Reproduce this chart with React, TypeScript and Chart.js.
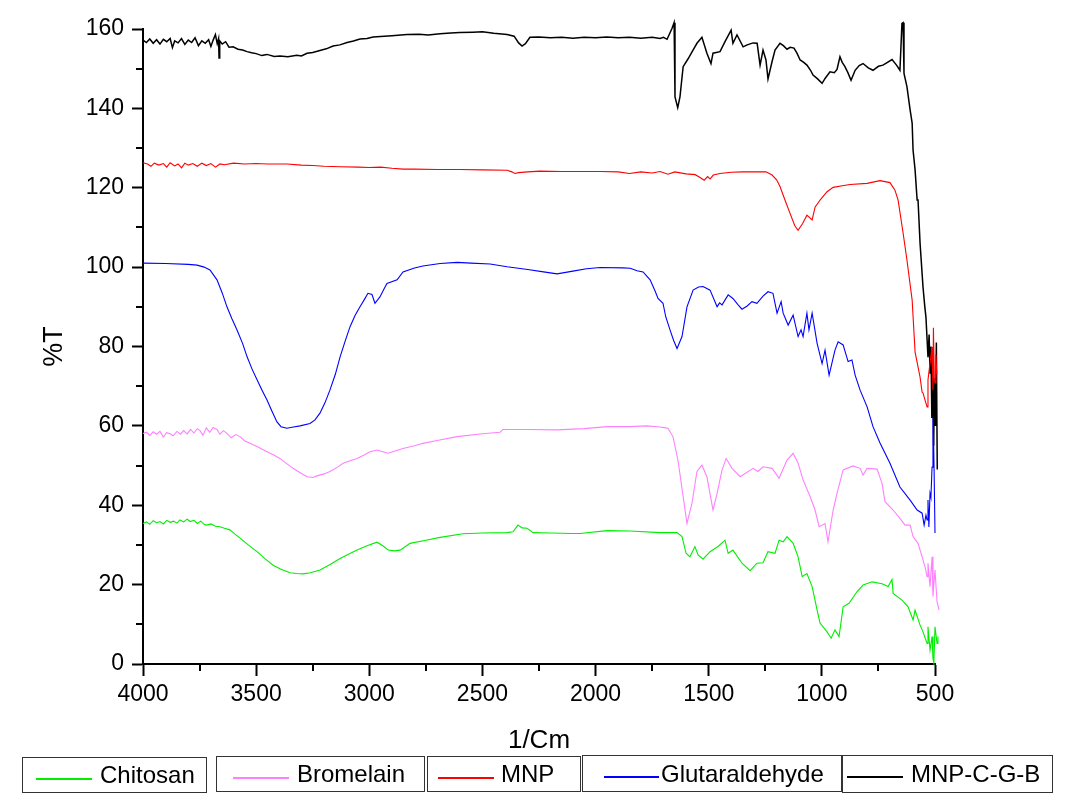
import React, { useEffect, useRef } from 'react';
import { Chart, registerables } from 'chart.js';

Chart.register(...registerables);

// ---------- data ----------
const seriesLabels = ['Chitosan', 'Bromelain', 'MNP', 'Glutaraldehyde', 'MNP-C-G-B'];
const seriesColors = ['#00ee00', '#ff80ff', '#ff0000', '#0000ff', '#000000'];

const xMajorTicks = [4000, 3500, 3000, 2500, 2000, 1500, 1000, 500];
const xMinorTicks = [3750, 3250, 2750, 2250, 1750, 1250, 750];
const yMinorTicks = [10, 30, 50, 70, 90, 110, 130, 150];

const chitosanWn = [4000, 3985, 3970, 3955, 3940, 3925, 3910, 3895, 3880, 3865, 3850, 3837, 3820, 3805, 3792, 3775, 3760, 3745, 3730, 3718, 3700, 3680, 3660, 3640, 3616, 3595, 3571, 3535, 3496, 3460, 3425, 3390, 3350, 3320, 3293, 3260, 3218, 3175, 3129, 3090, 3054, 3010, 2966, 2940, 2917, 2890, 2864, 2840, 2820, 2750, 2687, 2586, 2500, 2391, 2365, 2343, 2325, 2303, 2276, 2200, 2100, 2069, 1949, 1848, 1715, 1640, 1618, 1600, 1583, 1561, 1547, 1525, 1494, 1459, 1428, 1414, 1393, 1353, 1317, 1287, 1260, 1238, 1207, 1189, 1171, 1154, 1127, 1105, 1087, 1066, 1043, 1021, 1008, 977, 959, 942, 924, 906, 880, 845, 818, 778, 734, 707, 690, 685, 646, 619, 597, 588, 566, 553, 535, 531, 522, 513, 509, 505, 500, 491, 487];
const chitosanT = [35.4, 35.8, 35.2, 36.1, 35.6, 35.9, 35.3, 36.2, 35.7, 36.0, 35.5, 36.3, 35.8, 36.5, 35.9, 36.2, 35.4, 36.0, 35.2, 35.0, 35.3, 34.7, 34.6, 34.2, 33.8, 32.8, 31.7, 30.0, 28.3, 26.5, 24.9, 23.9, 23.0, 22.8, 22.7, 23.0, 23.7, 25.0, 26.6, 27.7, 28.7, 29.8, 30.7, 29.8, 28.7, 28.5, 28.7, 29.6, 30.4, 31.2, 31.9, 32.8, 33.0, 33.1, 33.3, 35.0, 34.3, 34.2, 33.1, 33.0, 32.9, 32.9, 33.6, 33.5, 33.1, 33.1, 32.1, 27.9, 27.0, 29.6, 27.5, 26.4, 28.3, 29.6, 31.2, 27.9, 28.7, 25.4, 23.5, 25.4, 25.5, 28.3, 27.9, 31.2, 30.8, 32.1, 30.4, 27.0, 22.0, 22.8, 19.5, 13.6, 10.3, 8.1, 6.5, 8.6, 6.9, 14.4, 15.3, 18.2, 19.9, 20.7, 20.2, 19.5, 21.3, 17.8, 16.1, 14.4, 11.1, 13.6, 9.8, 8.1, 5.2, 9.4, 3.5, 6.9, 1.4, 0.2, 9.4, 5.2, 6.9];

const bromelainWn = [4000, 3985, 3970, 3955, 3940, 3925, 3910, 3895, 3880, 3867, 3850, 3835, 3820, 3805, 3790, 3775, 3760, 3748, 3735, 3720, 3705, 3690, 3673, 3660, 3645, 3629, 3610, 3590, 3571, 3550, 3527, 3490, 3452, 3420, 3395, 3365, 3337, 3300, 3275, 3250, 3231, 3200, 3174, 3140, 3116, 3085, 3054, 3025, 2997, 2966, 2940, 2917, 2890, 2851, 2800, 2763, 2700, 2612, 2500, 2422, 2409, 2300, 2170, 2050, 1949, 1850, 1773, 1715, 1690, 1680, 1658, 1636, 1613, 1596, 1574, 1552, 1530, 1508, 1481, 1463, 1441, 1423, 1397, 1361, 1304, 1282, 1260, 1220, 1189, 1154, 1127, 1105, 1083, 1052, 1030, 1012, 986, 973, 950, 933, 906, 862, 831, 818, 800, 756, 734, 721, 685, 655, 632, 610, 597, 575, 557, 544, 535, 531, 522, 513, 509, 500, 491, 482];
const bromelainT = [58.1, 58.4, 57.6, 58.5, 57.9, 58.6, 57.2, 58.3, 58.0, 57.5, 58.6, 57.9, 58.8, 58.0, 59.1, 58.2, 59.3, 58.8, 57.6, 59.5, 58.4, 59.6, 59.1, 57.9, 58.8, 58.1, 57.0, 57.8, 57.3, 56.2, 55.6, 54.6, 53.5, 52.6, 51.8, 50.5, 49.3, 48.0, 47.2, 47.0, 47.4, 47.9, 48.5, 49.6, 50.6, 51.2, 51.8, 52.6, 53.5, 53.9, 53.5, 53.1, 53.6, 54.3, 55.0, 55.6, 56.3, 57.3, 58.0, 58.4, 59.1, 59.1, 59.0, 59.3, 59.8, 59.8, 60.0, 59.7, 59.5, 59.4, 57.3, 51.4, 42.2, 35.4, 40.5, 48.5, 50.1, 47.2, 38.8, 43.0, 48.9, 51.8, 49.3, 47.2, 49.3, 48.5, 49.7, 49.3, 46.8, 51.4, 53.1, 50.6, 46.4, 42.2, 38.8, 34.6, 35.4, 30.8, 38.8, 43.0, 48.9, 49.9, 49.3, 47.6, 49.3, 49.1, 45.5, 40.9, 38.8, 36.7, 35.0, 35.0, 32.1, 30.4, 27.0, 24.5, 22.0, 25.4, 19.5, 27.0, 17.0, 23.7, 15.7, 13.6];

const mnpWn = [4000, 3980, 3965, 3950, 3930, 3910, 3895, 3880, 3860, 3845, 3830, 3815, 3800, 3780, 3760, 3740, 3720, 3700, 3680, 3660, 3640, 3600, 3550, 3500, 3450, 3364, 3300, 3250, 3200, 3129, 3050, 3000, 2950, 2900, 2851, 2800, 2700, 2600, 2500, 2391, 2370, 2356, 2340, 2300, 2246, 2150, 2050, 1980, 1900, 1850, 1800, 1750, 1715, 1680, 1650, 1600, 1560, 1538, 1520, 1505, 1494, 1480, 1450, 1400, 1350, 1300, 1247, 1220, 1200, 1185, 1163, 1141, 1120, 1105, 1085, 1066, 1043, 1030, 1008, 977, 950, 910, 875, 800, 743, 699, 677, 663, 641, 624, 601, 588, 566, 557, 553, 544, 535, 531, 522, 513, 509, 507, 503, 500, 496, 492];
const mnpT = [126.3, 126.0, 125.4, 126.2, 125.7, 126.1, 125.2, 126.3, 125.5, 126.0, 125.0, 126.2, 125.7, 126.1, 125.4, 126.2, 125.6, 126.1, 125.2, 126.0, 125.8, 126.2, 126.0, 126.1, 126.0, 126.0, 125.7, 125.6, 125.4, 125.3, 125.2, 125.1, 125.2, 124.9, 124.7, 124.7, 124.6, 124.6, 124.5, 124.4, 124.0, 123.6, 123.8, 124.0, 124.2, 124.1, 124.1, 124.1, 124.0, 123.6, 124.0, 123.7, 124.1, 123.4, 124.0, 123.5, 123.3, 122.6, 121.9, 122.8, 122.2, 123.2, 123.6, 123.9, 124.0, 124.0, 124.0, 123.2, 122.0, 120.3, 116.9, 113.6, 110.5, 109.3, 111.0, 113.1, 111.9, 115.1, 116.9, 119.0, 120.1, 120.5, 120.8, 121.1, 121.8, 121.3, 119.4, 116.9, 108.6, 101.8, 91.7, 78.6, 72.3, 68.5, 68.3, 66.5, 64.8, 71.6, 75.8, 79.9, 69.0, 84.7, 72.0, 70.8, 78.0, 73.0];

const glutaraldehydeWn = [4000, 3900, 3800, 3761, 3730, 3704, 3673, 3650, 3629, 3607, 3585, 3560, 3540, 3518, 3496, 3474, 3452, 3430, 3408, 3390, 3364, 3335, 3306, 3262, 3240, 3218, 3196, 3174, 3150, 3129, 3107, 3085, 3063, 3041, 3020, 3006, 2988, 2975, 2953, 2935, 2922, 2877, 2851, 2800, 2763, 2687, 2612, 2550, 2466, 2391, 2300, 2230, 2170, 2100, 2040, 1980, 1879, 1847, 1817, 1790, 1759, 1737, 1724, 1702, 1690, 1671, 1655, 1640, 1618, 1596, 1569, 1545, 1525, 1494, 1463, 1452, 1441, 1414, 1393, 1370, 1353, 1330, 1309, 1287, 1260, 1238, 1216, 1198, 1180, 1171, 1149, 1127, 1105, 1092, 1083, 1066, 1057, 1043, 1021, 999, 986, 968, 942, 928, 906, 884, 867, 853, 831, 800, 774, 743, 699, 655, 610, 579, 557, 548, 540, 535, 531, 527, 522, 518, 513, 509, 506, 504, 500];
const glutaraldehydeT = [101.0, 100.9, 100.7, 100.5, 100.0, 99.3, 96.8, 93.5, 90.0, 87.0, 84.2, 80.8, 77.4, 74.3, 71.6, 69.0, 66.5, 63.7, 61.0, 59.8, 59.4, 59.7, 60.0, 60.6, 61.5, 63.2, 65.8, 69.0, 73.0, 77.4, 81.3, 85.0, 87.8, 90.0, 92.0, 93.4, 93.1, 90.9, 92.5, 94.5, 95.9, 96.8, 98.8, 99.8, 100.3, 100.9, 101.2, 101.0, 100.8, 100.1, 99.4, 98.8, 98.3, 99.0, 99.6, 99.9, 99.8, 99.7, 99.1, 98.8, 96.8, 94.0, 92.1, 90.9, 87.5, 84.2, 81.5, 79.5, 82.5, 90.0, 94.2, 95.0, 95.1, 94.2, 90.0, 91.0, 90.5, 93.0, 92.1, 90.5, 89.4, 90.2, 91.3, 90.9, 92.7, 93.8, 93.4, 88.4, 91.3, 88.4, 85.4, 87.9, 82.5, 84.2, 82.5, 88.4, 84.2, 88.4, 80.8, 75.7, 79.1, 72.8, 79.1, 81.2, 80.4, 76.2, 76.6, 72.8, 69.0, 64.8, 59.8, 55.7, 50.6, 44.6, 41.3, 38.8, 38.0, 35.0, 37.5, 36.3, 41.3, 34.5, 43.0, 42.0, 49.6, 62.2, 55.7, 48.9, 33.0];

const mnpcgbWn = [4000, 3985, 3970, 3955, 3940, 3925, 3910, 3895, 3880, 3870, 3860, 3845, 3830, 3815, 3800, 3785, 3770, 3755, 3740, 3725, 3710, 3700, 3690, 3680, 3672, 3666, 3664, 3661, 3650, 3635, 3620, 3602, 3580, 3560, 3540, 3520, 3500, 3475, 3452, 3420, 3395, 3360, 3320, 3300, 3275, 3250, 3218, 3190, 3160, 3130, 3098, 3070, 3041, 3010, 2983, 2950, 2900, 2833, 2780, 2740, 2687, 2640, 2600, 2542, 2500, 2450, 2391, 2360, 2340, 2325, 2310, 2290, 2250, 2200, 2150, 2100, 2050, 2000, 1950, 1900, 1850, 1800, 1750, 1715, 1700, 1684, 1662, 1653, 1649, 1637, 1627, 1613, 1591, 1570, 1552, 1530, 1508, 1490, 1481, 1450, 1428, 1401, 1393, 1375, 1348, 1330, 1304, 1286, 1273, 1260, 1247, 1238, 1220, 1207, 1185, 1170, 1154, 1140, 1123, 1110, 1096, 1080, 1066, 1050, 1039, 1020, 999, 985, 964, 945, 933, 920, 910, 898, 885, 871, 853, 835, 818, 795, 774, 750, 730, 710, 690, 670, 655, 646, 641, 637, 624, 610, 601, 597, 588, 579, 575, 566, 553, 545, 540, 531, 526, 522, 518, 514, 510, 506, 502, 498, 494, 490];
const mnpcgbT = [157.2, 156.6, 157.5, 156.4, 157.3, 156.2, 157.4, 156.8, 157.6, 155.3, 157.0, 156.5, 157.6, 156.1, 157.2, 156.6, 157.8, 155.8, 157.0, 156.4, 157.3, 155.6, 157.2, 158.6, 156.3, 157.6, 152.7, 157.0, 156.2, 156.8, 155.4, 155.5, 154.9, 154.7, 154.3, 154.0, 153.8, 153.3, 153.6, 153.1, 153.2, 153.0, 153.4, 153.2, 153.9, 154.1, 154.6, 155.0, 155.7, 156.0, 156.6, 157.0, 157.5, 157.6, 158.0, 158.1, 158.3, 158.6, 158.7, 158.5, 158.8, 159.0, 159.1, 159.2, 159.3, 158.9, 158.6, 158.2, 156.5, 155.7, 156.3, 157.9, 158.0, 157.8, 157.9, 157.7, 157.9, 157.8, 158.0, 157.8, 157.9, 157.7, 157.9, 157.6, 157.9, 157.4, 160.2, 161.6, 142.9, 140.2, 142.9, 150.5, 152.5, 154.6, 156.4, 157.9, 153.9, 151.3, 153.9, 154.3, 156.8, 159.7, 156.4, 158.5, 155.5, 156.0, 156.5, 156.4, 150.9, 154.7, 152.2, 147.4, 151.8, 154.7, 156.4, 155.8, 154.9, 155.4, 155.2, 153.9, 152.2, 151.6, 150.9, 149.6, 148.4, 147.5, 146.3, 147.6, 149.2, 149.0, 149.8, 153.0, 151.6, 150.5, 149.0, 147.1, 149.6, 150.8, 151.3, 150.2, 149.6, 150.6, 150.9, 151.6, 152.3, 150.9, 149.6, 161.4, 161.6, 148.8, 145.5, 139.6, 136.3, 129.5, 124.5, 116.9, 116.9, 106.0, 95.0, 90.0, 87.4, 77.3, 83.0, 73.3, 80.0, 62.0, 76.0, 55.0, 72.0, 60.0, 81.0, 49.0];

const seriesWn = [chitosanWn, bromelainWn, mnpWn, glutaraldehydeWn, mnpcgbWn];
const seriesT = [chitosanT, bromelainT, mnpT, glutaraldehydeT, mnpcgbT];

// ---------- component ----------
const FONT = '"Liberation Sans", Arial, sans-serif';

const minorTickPlugin = {
  id: 'minorTicks',
  afterDraw(chart: any) {
    const ctx = chart.ctx;
    const xs = chart.scales.x;
    const ys = chart.scales.y;
    ctx.save();
    ctx.strokeStyle = '#000';
    ctx.lineWidth = 2;
    for (const v of xMinorTicks) {
      const px = Math.round(xs.getPixelForValue(v));
      ctx.beginPath();
      ctx.moveTo(px, ys.bottom);
      ctx.lineTo(px, ys.bottom + 7);
      ctx.stroke();
    }
    for (const v of yMinorTicks) {
      const py = Math.round(ys.getPixelForValue(v));
      ctx.beginPath();
      ctx.moveTo(xs.left, py);
      ctx.lineTo(xs.left - 7, py);
      ctx.stroke();
    }
    ctx.restore();
  },
};

const legendBoxes = [
  { left: 22, top: 757, width: 185, height: 36, l1: 13, l2: 69, tx: 77 },
  { left: 216, top: 756, width: 209, height: 36, l1: 16, l2: 72, tx: 80 },
  { left: 427, top: 756, width: 154, height: 36, l1: 10, l2: 66, tx: 73 },
  { left: 582, top: 755, width: 260, height: 37, l1: 21, l2: 76, tx: 78 },
  { left: 842, top: 755, width: 211, height: 38, l1: 4, l2: 60, tx: 68 },
];

export default function App() {
  const canvasRef = useRef<HTMLCanvasElement | null>(null);

  useEffect(() => {
    const canvas = canvasRef.current;
    if (!canvas) return;
    const datasets = seriesLabels.map((label, i) => ({
      label,
      data: seriesWn[i].map((w, j) => ({ x: w, y: seriesT[i][j] })),
      borderColor: seriesColors[i],
      backgroundColor: seriesColors[i],
      borderWidth: i === 4 ? 1.5 : 1.1,
      pointRadius: 0,
      tension: 0,
      clip: false as any,
    }));
    const chart = new Chart(canvas, {
      type: 'line',
      data: { datasets },
      plugins: [minorTickPlugin],
      options: {
        animation: false,
        responsive: false,
        devicePixelRatio: 1,
        layout: { padding: { left: 0, top: 29, right: 147, bottom: 49 } },
        plugins: { legend: { display: false }, tooltip: { enabled: false } },
        scales: {
          x: {
            type: 'linear',
            reverse: true,
            min: 500,
            max: 4000,
            afterBuildTicks: (scale: any) => {
              scale.ticks = xMajorTicks.map((v) => ({ value: v }));
            },
            afterFit: (scale: any) => {
              scale.height = 92;
            },
            border: { display: true, color: '#000', width: 2 },
            grid: { drawOnChartArea: false, drawTicks: true, tickLength: 12, tickWidth: 2, tickColor: '#000' },
            ticks: {
              color: '#000',
              font: { family: FONT, size: 23 },
              padding: 5,
              maxRotation: 0,
              autoSkip: false,
              callback: (v: any) => String(v),
            },
            title: { display: true, text: '1/Cm', color: '#000', font: { family: FONT, size: 26 }, padding: { top: 0, bottom: 0 } },
          },
          y: {
            type: 'linear',
            min: 0,
            max: 160,
            ticks: { stepSize: 20, color: '#000', font: { family: FONT, size: 23 }, padding: 8, callback: (v: any) => String(v) },
            afterFit: (scale: any) => {
              scale.width = 143;
            },
            border: { display: true, color: '#000', width: 2 },
            grid: { drawOnChartArea: false, drawTicks: true, tickLength: 11, tickWidth: 2, tickColor: '#000' },
            title: { display: true, text: '%T', color: '#000', font: { family: FONT, size: 27 }, padding: { top: 38, bottom: 0 } },
          },
        },
      },
    } as any);
    return () => chart.destroy();
  }, []);

  return (
    <div style={{ position: 'absolute', left: 0, top: 0, width: 1082, height: 805, background: '#fff' }}>
      <canvas ref={canvasRef} width={1082} height={805} style={{ position: 'absolute', left: 0, top: 0 }} />
      {legendBoxes.map((b, i) => (
        <div
          key={seriesLabels[i]}
          style={{
            position: 'absolute',
            left: b.left,
            top: b.top,
            width: b.width,
            height: b.height,
            boxSizing: 'border-box',
            border: '1px solid #333',
            fontFamily: FONT,
          }}
        >
          <div
            style={{
              position: 'absolute',
              left: b.l1,
              width: b.l2 - b.l1,
              top: 20,
              height: 2,
              background: seriesColors[i],
            }}
          />
          <div
            style={{
              position: 'absolute',
              left: b.tx,
              top: 0,
              height: b.height - 2,
              lineHeight: `${b.height - 2}px`,
              fontSize: 24,
              color: '#000',
              whiteSpace: 'nowrap',
            }}
          >
            {seriesLabels[i]}
          </div>
        </div>
      ))}
    </div>
  );
}
